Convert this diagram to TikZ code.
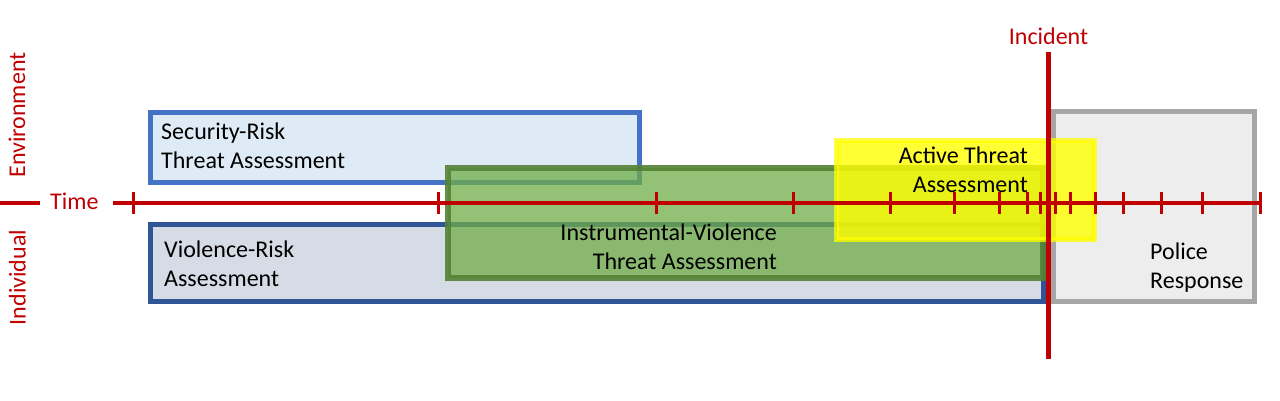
\documentclass[tikz,border=0pt]{standalone}
\usepackage{fontspec}
\setmainfont{Carlito}
\definecolor{axisred}{HTML}{C00000}
\definecolor{secdraw}{HTML}{4472C4}
\definecolor{secfill}{HTML}{DEEBF7}
\definecolor{vioDraw}{HTML}{2F5597}
\definecolor{vioFill}{HTML}{D6DCE5}
\definecolor{grnDraw}{HTML}{548235}
\definecolor{grnFill}{HTML}{70AD47}
\definecolor{polDraw}{HTML}{A6A6A6}
\definecolor{polFill}{HTML}{EDEDED}
\definecolor{ylw}{HTML}{FFFF00}
\begin{document}
\begin{tikzpicture}[x=1pt,y=-1pt,
  font=\fontsize{24}{29}\selectfont,
  lbl/.style={inner sep=0pt, align=left, anchor=base west},
  rlbl/.style={inner sep=0pt, align=right, anchor=base east},
  redlbl/.style={inner sep=0pt, text=axisred},
  axisline/.style={draw=axisred, line width=4pt},
  tickline/.style={draw=axisred, line width=3pt},
  secbox/.style={draw=secdraw, fill=secfill, line width=5pt},
  viobox/.style={draw=vioDraw, fill=vioFill, line width=5pt},
  grnbox/.style={draw=grnDraw, fill=grnFill, line width=6pt, fill opacity=0.75, draw opacity=0.9},
  polbox/.style={draw=polDraw, fill=polFill, line width=5pt},
  ylwbox/.style={draw=ylw, fill=ylw, line width=5pt, fill opacity=0.8, draw opacity=0.75}]
\useasboundingbox (0,0) rectangle (1280,400);
\fill[white] (0,0) rectangle (1280,400);

% boxes
\draw[secbox] (150.5,112) rectangle (639.5,182);
\draw[viobox] (150.5,224.5) rectangle (1043.5,301.5);
\draw[polbox] (1053.5,111.5) rectangle (1254.5,301.5);
\node[lbl] (sec) at (161,168.5) {Security-Risk\\Threat Assessment};
\node[lbl] (vio) at (164,286.5) {Violence-Risk\\Assessment};
\node[lbl] (pol) at (1150,288.5) {Police\\Response};
\draw[grnbox] (448,168) rectangle (1043,278);
\node[rlbl] (grn) at (777,269.5) {Instrumental-Violence\\Threat Assessment};
\draw[ylwbox] (836.5,140.5) rectangle (1094.5,239.5);
\node[rlbl] (ylwt) at (1028,192.5) {Active Threat\\Assessment};

% side labels
\node[redlbl, rotate=90, anchor=base] (env) at (25,115) {Environment};
\node[redlbl, rotate=90, anchor=base] (ind) at (25.5,277.5) {Individual};
\coordinate (d0) at (0,203);
\coordinate (d1) at (40,203);
\draw[axisline] (d0) -- (d1);
\node[redlbl, anchor=base west] (time) at (50,209.5) {Time};

% time axis
\coordinate (t0) at (113,203);
\coordinate (t1) at (1262,203);
\draw[axisline] (t0) -- (t1);
\foreach \x in {133,438,656,793,890,954,999,1027,1040,1055,1070,1095,1123,1161,1202,1260.5}
  \draw[tickline] (\x,192) -- (\x,214);

% incident
\coordinate (i0) at (1048.5,52);
\coordinate (i1) at (1048.5,359);
\draw[draw=axisred, line width=4.5pt] (i0) -- (i1);
\node[redlbl, anchor=base] (inc) at (1048.5,44) {Incident};
\end{tikzpicture}
\end{document}
